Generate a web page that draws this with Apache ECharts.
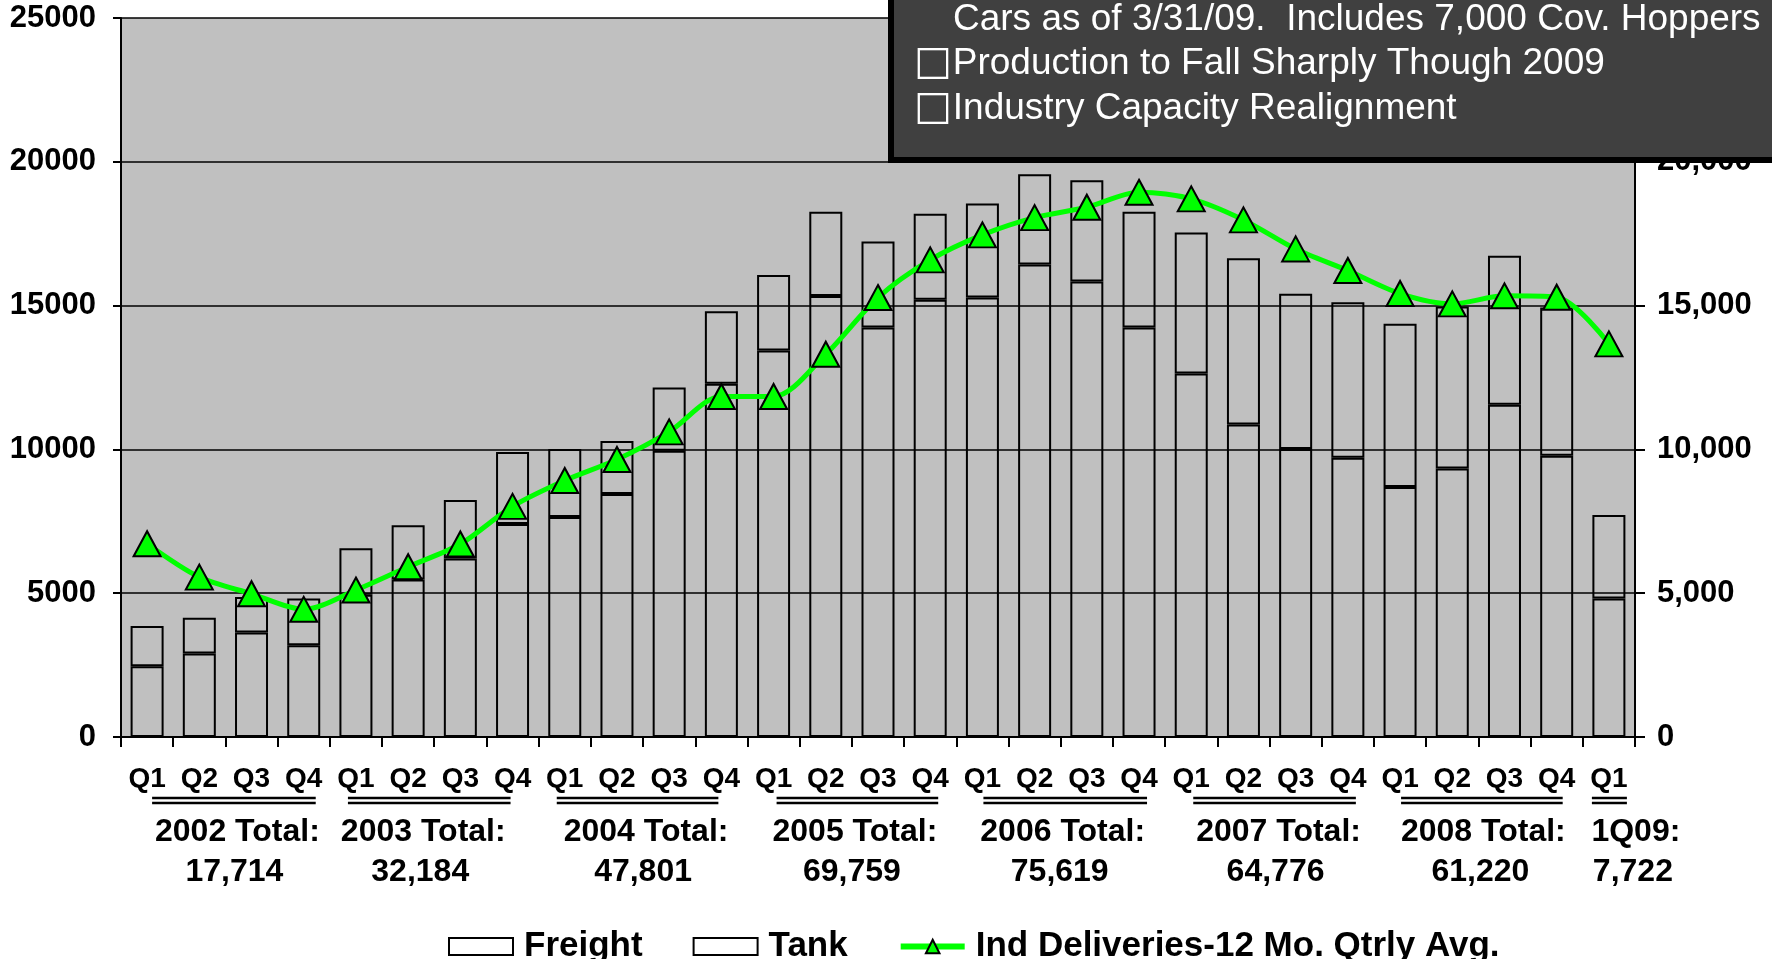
<!DOCTYPE html>
<html>
<head>
<meta charset="utf-8">
<script src="https://cdn.jsdelivr.net/npm/echarts@6/dist/echarts.min.js"></script>
<style>
  html, body { margin: 0; padding: 0; background: #fff; }
  #chart { width: 1772px; height: 959px; }
</style>
</head>
<body>
<div id="chart"></div>
<script>
const quarters = [
  'Q1', 'Q2', 'Q3', 'Q4', 'Q1', 'Q2', 'Q3', 'Q4', 'Q1', 'Q2', 'Q3', 'Q4',
  'Q1', 'Q2', 'Q3', 'Q4', 'Q1', 'Q2', 'Q3', 'Q4', 'Q1', 'Q2', 'Q3', 'Q4',
  'Q1', 'Q2', 'Q3', 'Q4', 'Q1'
]
// bottom segment of each bar
const freight = [
  2460, 2900, 3630, 3190, 4950, 5480, 6210, 7410, 7650, 8450, 9950, 12280,
  13440, 15330, 14240, 15200, 15280, 16430, 15840, 14240, 12640, 10870, 10010, 9710,
  8690, 9340, 11550, 9780, 4820
]
// top segment of each bar
const tank = [
  1400, 1250, 1240, 1630, 1610, 1880, 2030, 2500, 2360, 1840, 2200, 2520,
  2620, 2930, 2990, 2990, 3270, 3140, 3520, 4020, 4900, 5780, 5400, 5410,
  5680, 5630, 5180, 5150, 2900
]
const deliveriesAvg = [
  6720, 5560, 4980, 4440, 5110, 5920, 6710, 8020, 8920, 9650, 10610, 11840,
  11840, 13310, 15280, 16590, 17460, 18060, 18420, 18940, 18710, 17980, 16970, 16220,
  15420, 15060, 15340, 15290, 13670
]
const yearLabels = ['2002 Total:', '2003 Total:', '2004 Total:', '2005 Total:', '2006 Total:', '2007 Total:', '2008 Total:', '1Q09:']
const yearTotals = ['17,714', '32,184', '47,801', '69,759', '75,619', '64,776', '61,220', '7,722']
const yearFirst = [0, 4, 8, 12, 16, 20, 24, 28]
const yearLast = [3, 7, 11, 15, 19, 23, 27, 28]
const noteLines = [
  'Cars as of 3/31/09.  Includes 7,000 Cov. Hoppers',
  '{sq|\u25A1}Production to Fall Sharply Though 2009',
  '{sq|\u25A1}Industry Capacity Realignment'
]

// small horizontal nudges (px) of the labels under the axis
const totalNudge = [12, -11, 3, 3, 2, 9, 5, 27]
const underlineStart = [5, -8, -8, 3, 1, 2, 1, -17]
const underlineEnd = [12, -2, -3, 8, 8, 8, 6, 18]

const FONT = '"Liberation Sans", Arial, sans-serif'
const LINE_NAME = 'Ind Deliveries-12 Mo. Qtrly Avg.'

const chart = echarts.init(document.getElementById('chart'))

const barStyle = {
  color: 'rgba(0,0,0,0)',
  borderColor: '#000',
  borderWidth: 2
}

chart.setOption({
  animation: false,
  grid: {
    left: 121,
    right: 137,
    top: 18,
    bottom: 222,
    show: true,
    backgroundColor: '#C0C0C0',
    borderWidth: 0
  },
  legend: {
    left: 443,
    top: 924,
    itemWidth: 64,
    itemHeight: 17,
    itemGap: 50,
    textStyle: {
      fontFamily: FONT,
      fontWeight: 'bold',
      fontSize: 35,
      color: '#000',
      padding: [0, 0, 0, 6]
    },
    data: [
      { name: 'Freight', icon: 'rect', itemStyle: { color: '#fff', borderColor: '#000', borderWidth: 2 } },
      { name: 'Tank', icon: 'rect', itemStyle: { color: '#fff', borderColor: '#000', borderWidth: 2 } },
      { name: LINE_NAME, lineStyle: { color: '#00FF00', width: 6 } }
    ]
  },
  xAxis: {
    type: 'category',
    data: quarters,
    boundaryGap: true,
    axisLine: { lineStyle: { color: '#000', width: 2 } },
    axisTick: { show: true, length: 10, lineStyle: { color: '#000', width: 2 } },
    axisLabel: {
      interval: 0,
      color: '#000',
      fontFamily: FONT,
      fontWeight: 'bold',
      fontSize: 28,
      margin: 28
    },
    splitLine: { show: false }
  },
  yAxis: [{
    type: 'value',
    position: 'left',
    min: 0,
    max: 25000,
    interval: 5000,
    axisLine: { show: true, lineStyle: { color: '#000', width: 2 } },
    axisTick: { show: true, length: 8, lineStyle: { color: '#000', width: 2 } },
    axisLabel: {
      color: '#000',
      fontFamily: FONT,
      fontWeight: 'bold',
      fontSize: 31,
      margin: 25,
      formatter: v => String(v)
    },
    splitLine: { show: true, lineStyle: { color: '#000', width: 1.5 } }
  }, {
    type: 'value',
    position: 'right',
    min: 0,
    max: 25000,
    interval: 5000,
    axisLine: { show: true, lineStyle: { color: '#000', width: 2 } },
    axisTick: { show: true, length: 10, lineStyle: { color: '#000', width: 2 } },
    axisLabel: {
      color: '#000',
      fontFamily: FONT,
      fontWeight: 'bold',
      fontSize: 31,
      margin: 22,
      formatter: v => v.toLocaleString('en-US')
    },
    splitLine: { show: false }
  }],
  series: [{
    name: 'Freight',
    type: 'bar',
    stack: 'cars',
    data: freight,
    barWidth: 33,
    itemStyle: barStyle,
    emphasis: { disabled: true },
    z: 2
  }, {
    name: 'Tank',
    type: 'bar',
    stack: 'cars',
    data: tank,
    barWidth: 33,
    itemStyle: barStyle,
    emphasis: { disabled: true },
    z: 2
  }, {
    name: LINE_NAME,
    type: 'line',
    data: deliveriesAvg,
    smooth: 0.3,
    symbol: 'triangle',
    symbolSize: [27, 25],
    lineStyle: { color: '#00FF00', width: 5 },
    itemStyle: { color: '#00FF00', borderColor: '#000', borderWidth: 2 },
    emphasis: { disabled: true },
    z: 5
  }]
})

// year underlines, totals and the note box
function drawExtras () {
  const elements = []
  const px = i => chart.convertToPixel({ xAxisIndex: 0 }, i)

  yearLabels.forEach((label, i) => {
    const a = px(yearFirst[i])
    const b = px(yearLast[i])
    const x1 = a + underlineStart[i]
    const x2 = b + underlineEnd[i]
    ;[798, 803].forEach(y => {
      elements.push({
        type: 'line',
        shape: { x1, y1: y, x2, y2: y },
        style: { stroke: '#000', lineWidth: 2.5 },
        silent: true
      })
    })
    const cx = (a + b) / 2 + totalNudge[i]
    elements.push({
      type: 'text',
      x: cx,
      y: 832,
      style: { text: label, fill: '#000', fontFamily: FONT, fontWeight: 'bold', fontSize: 32, align: 'center', verticalAlign: 'middle' },
      silent: true
    })
    elements.push({
      type: 'text',
      x: cx - 3,
      y: 872,
      style: { text: yearTotals[i], fill: '#000', fontFamily: FONT, fontWeight: 'bold', fontSize: 32, align: 'center', verticalAlign: 'middle' },
      silent: true
    })
  })

  // dark note box in the top right corner
  elements.push({
    type: 'rect',
    shape: { x: 891, y: -20, width: 1000, height: 180 },
    style: { fill: '#404040', stroke: '#000', lineWidth: 6 },
    z: 100,
    silent: true
  })
  const noteX = [953, 914, 914]
  const noteY = [20, 64, 109]
  noteLines.forEach((t, i) => {
    elements.push({
      type: 'text',
      x: noteX[i],
      y: noteY[i],
      style: {
        text: t,
        fill: '#fff',
        fontFamily: FONT,
        fontSize: 37,
        align: 'left',
        verticalAlign: 'middle',
        rich: {
          sq: { fontFamily: '"DejaVu Sans", sans-serif', fontSize: 40, fill: '#fff', padding: [0, 1, 0, 0] }
        }
      },
      z: 101,
      silent: true
    })
  })

  chart.setOption({ graphic: { elements } })
}

drawExtras()
</script>
</body>
</html>
